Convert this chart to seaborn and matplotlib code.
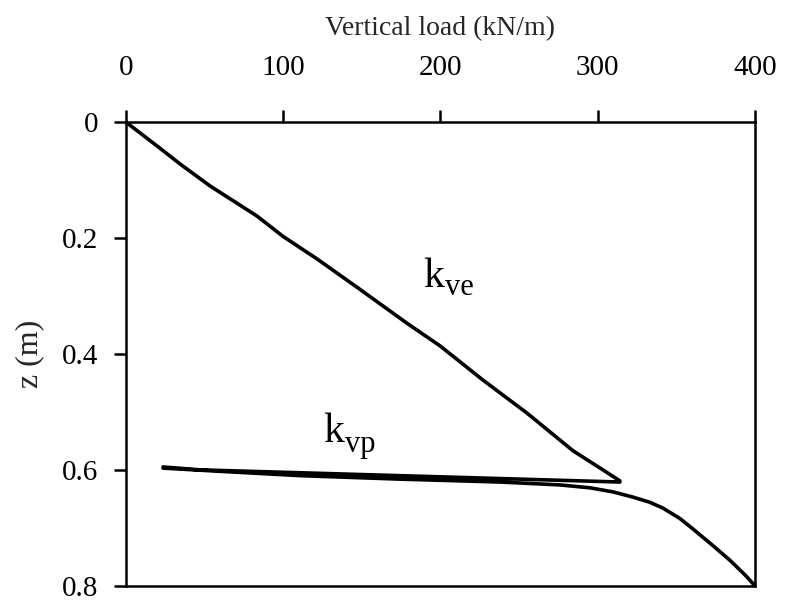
import numpy as np
import pandas as pd
import matplotlib
matplotlib.use("Agg")
import matplotlib.pyplot as plt
import seaborn as sns

# ── Données ────────────────────────────────────────────────
# branche de chargement élastique (k_ve)
load_up = [0, 21.6, 34.3, 53.4, 83.3, 99.8, 121.5, 147.5, 178.7, 199.7,
           227.0, 255.0, 284.3, 303.3, 314.1]
z_up = [0, 0.045, 0.072, 0.110, 0.162, 0.197, 0.236, 0.286, 0.347, 0.386,
        0.445, 0.502, 0.567, 0.600, 0.619]

# décharge
load_un = [314.1, 250.6, 174.2, 110.7, 47.1, 23.5]
z_un = [0.621, 0.616, 0.610, 0.605, 0.600, 0.595]

# recharge puis rupture (k_vp)
load_re = [23.5, 63.0, 110.7, 174.2, 237.8, 276.0, 295.1, 309.7, 322.4,
           333.2, 341.5, 352.3, 360.6, 373.4, 384.1, 393.6, 400.0]
z_re = [0.597, 0.603, 0.610, 0.616, 0.621, 0.626, 0.631, 0.638, 0.647,
        0.656, 0.666, 0.684, 0.702, 0.731, 0.756, 0.781, 0.800]

x_ticks = [0, 100, 200, 300, 400]
y_ticks = [0, 0.2, 0.4, 0.6, 0.8]
y_ticklabels = ["0", "0.2", "0.4", "0.6", "0.8"]

df = pd.DataFrame({
    "load": load_up + load_un + load_re,
    "z": z_up + z_un + z_re,
})

# ── Style ─────────────────────────────────────────────────
sns.set_style("ticks")
plt.rcParams.update({
    "font.family": ["Liberation Serif", "DejaVu Serif"],
    "text.color": "black",
    "axes.edgecolor": "black",
    "axes.linewidth": 1.8,
    "xtick.color": "black",
    "ytick.color": "black",
})

fig = plt.figure(figsize=(7.88, 6.02), dpi=100)
ax = fig.add_axes([0.160, 0.027, 0.798, 0.770])

sns.lineplot(data=df, x="load", y="z", sort=False, estimator=None,
             color="black", linewidth=2.6, ax=ax)

ax.set_xlim(0, 400)
ax.set_ylim(0.8, 0)
ax.set_xticks(x_ticks)
ax.set_xticklabels([str(t) for t in x_ticks])
ax.set_yticks(y_ticks)
ax.set_yticklabels(y_ticklabels)

ax.xaxis.tick_top()
ax.xaxis.set_label_position("top")
ax.tick_params(axis="x", top=True, bottom=False, direction="out",
               length=9, width=1.8, pad=21, labelsize=21)
ax.tick_params(axis="y", left=True, right=False, direction="out",
               length=9, width=1.8, pad=11, labelsize=21)

ax.set_xlabel("Vertical load (kN/m)", fontsize=20, labelpad=14)
ax.set_ylabel("z (m)", fontsize=23, labelpad=13)

for s in ax.spines.values():
    s.set_visible(True)
    s.set_linewidth(1.8)

# étiquettes k_ve et k_vp (k + indice)
for txt, sub, x0, z0, dy in [("k", "ve", 188.9, 0.2845, -5.8),
                             ("k", "vp", 125.3, 0.552, -7.0)]:
    ax.text(x0, z0, txt, fontsize=30, ha="left", va="baseline")
    ax.annotate(sub, xy=(x0, z0), xytext=(15.8, dy), textcoords="offset points",
                fontsize=22, ha="left", va="baseline")

plt.savefig("out.png", dpi=100, facecolor="white")
plt.close()
